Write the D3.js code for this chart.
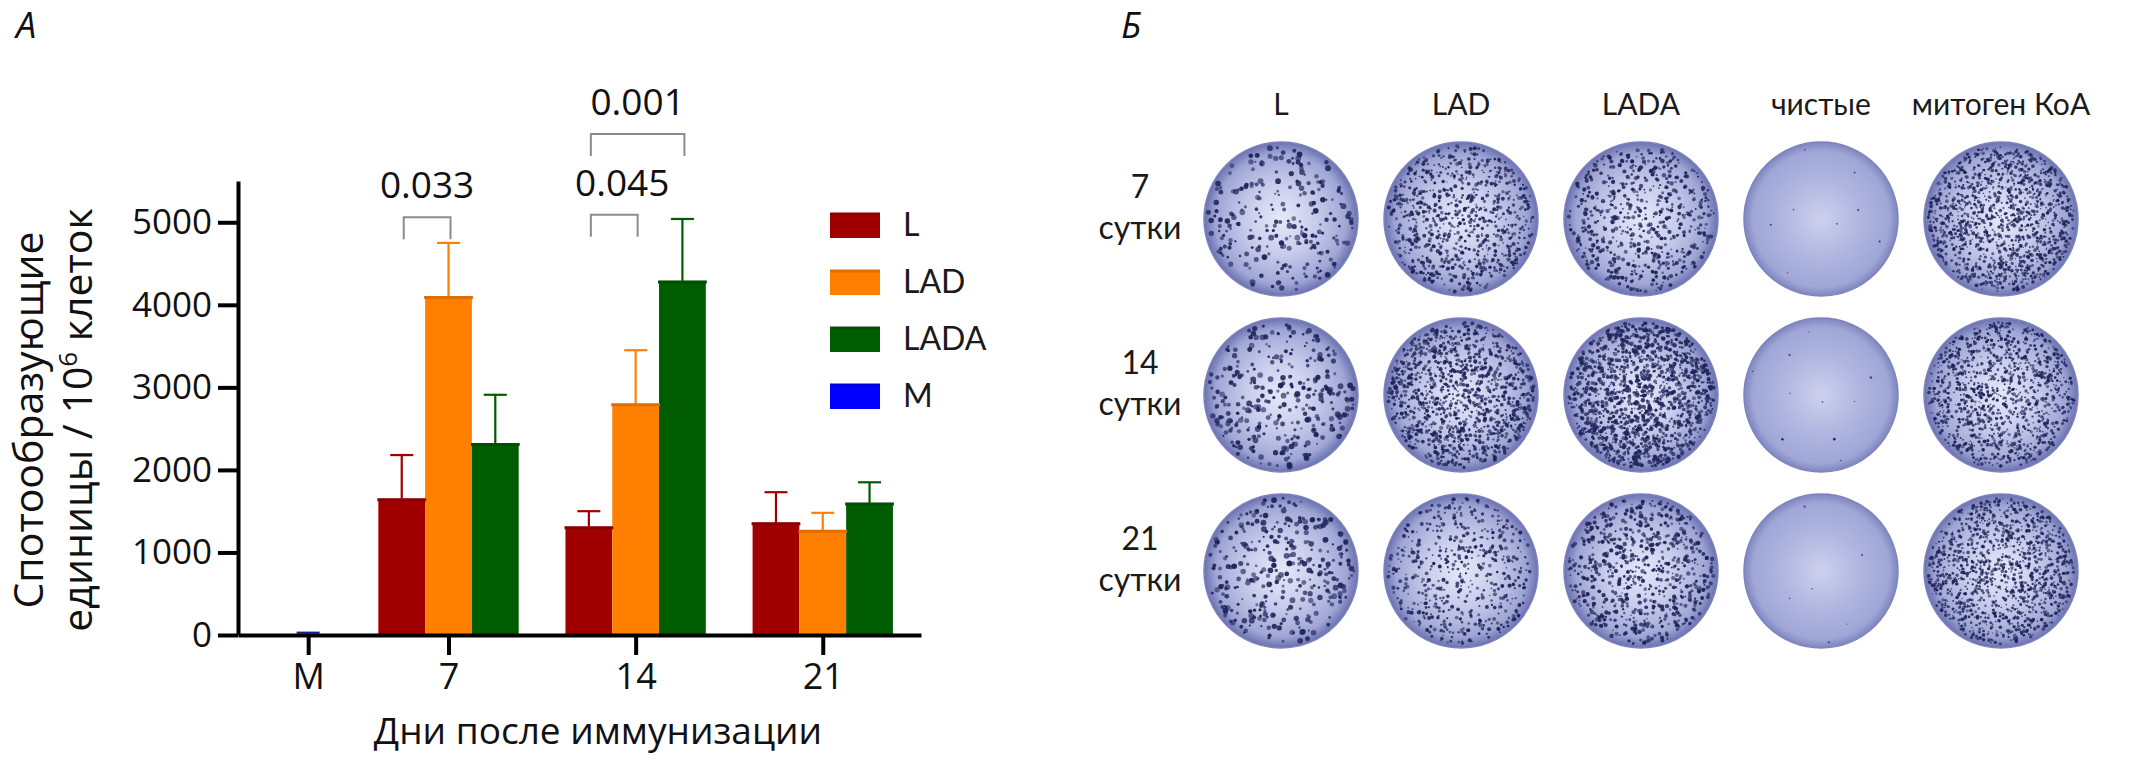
<!DOCTYPE html>
<html>
<head>
<meta charset="utf-8">
<script src="https://cdn.jsdelivr.net/npm/d3@7/dist/d3.min.js"></script>
<style>
body { margin: 0; background: #fff; }
svg { display: block; }
</style>
</head>
<body>
<div id="chart"></div>
<script>
//---------------------------------------Data---------------------------------------
// Panel А: spot forming units per 10^6 cells
var days = ["7", "14", "21"];
var series = ["L", "LAD", "LADA", "M"];
var groupLabels = ["M", "7", "14", "21"];

var meanL = [1650, 1310, 1360];
var errL = [530, 190, 370];
var meanLAD = [4100, 2800, 1270];
var errLAD = [650, 650, 210];
var meanLADA = [2320, 4290, 1600];
var errLADA = [590, 750, 250];
var meanM = [10];
var errM = [18];

var yTicks = [0, 1000, 2000, 3000, 4000, 5000];

// significance brackets: day, from series, to series, p value, bracket level
var pDays = ["7", "14", "14"];
var pFrom = ["L", "L", "L"];
var pTo = ["LAD", "LAD", "LADA"];
var pText = ["0.033", "0.045", "0.001"];
var pLevel = [5060, 5090, 6070];

// Panel Б: ELISpot wells
var wellColumns = ["L", "LAD", "LADA", "чистые", "митоген КоА"];
var wellRows = ["7", "14", "21"];
var spotCounts = [
  [230, 800, 600, 8, 1300],
  [300, 1150, 1400, 10, 1150],
  [320, 520, 700, 6, 1250]
];

//---------------------------------------Layout---------------------------------------
var W = 2133, H = 782;
var color = d3.scaleOrdinal()
    .domain(series)
    .range(["#a00000", "#ff8000", "#005c00", "#0000ff"]);

var svg = d3.select("#chart")
  .append("svg")
    .attr("width", W)
    .attr("height", H);

svg.append("rect").attr("width", W).attr("height", H).attr("fill", "#fff");

// slot scale: every bar occupies one slot, groups separated by one empty slot
var x = d3.scaleLinear()
    .domain([0, 14.6])
    .range([238, 921]);

var y = d3.scaleLinear()
    .domain([0, 5500])
    .range([635, 181]);

function slotOf(s, dayIdx) {
  if (s === "M") return 1;
  return 3 + 4 * dayIdx + series.indexOf(s);
}

// build bar table from the arrays
var bars = [];
var meanBy = {L: meanL, LAD: meanLAD, LADA: meanLADA};
var errBy = {L: errL, LAD: errLAD, LADA: errLADA};
bars.push({s: "M", slot: slotOf("M", 0), v: meanM[0], e: errM[0]});
days.forEach(function(d, i) {
  ["L", "LAD", "LADA"].forEach(function(s) {
    bars.push({s: s, slot: slotOf(s, i), v: meanBy[s][i], e: errBy[s][i]});
  });
});

var bw = x(1) - x(0);
var font = "'Open Sans', 'DejaVu Sans', sans-serif";
var font2 = "Lato, 'Open Sans', sans-serif";

//---------------------------------------Panel А---------------------------------------
var gA = svg.append("g");

// error bars (upper only)
var eb = gA.append("g").selectAll("g")
  .data(bars)
  .enter().append("g")
    .attr("stroke", function(d) { return d.s === "M" ? "#1a1a90" : color(d.s); })
    .attr("stroke-width", 2.2);

eb.append("line")
    .attr("x1", function(d) { return x(d.slot + 0.5); })
    .attr("x2", function(d) { return x(d.slot + 0.5); })
    .attr("y1", function(d) { return y(d.v); })
    .attr("y2", function(d) { return y(d.v + d.e); });

eb.append("line")
    .attr("x1", function(d) { return x(d.slot + 0.5) - 11.5; })
    .attr("x2", function(d) { return x(d.slot + 0.5) + 11.5; })
    .attr("y1", function(d) { return y(d.v + d.e); })
    .attr("y2", function(d) { return y(d.v + d.e); });

// bars
gA.append("g").selectAll("rect")
  .data(bars)
  .enter().append("rect")
    .attr("x", function(d) { return x(d.slot); })
    .attr("y", function(d) { return y(d.v); })
    .attr("width", bw)
    .attr("height", function(d) { return y(0) - y(d.v); })
    .attr("fill", function(d) { return color(d.s); });

// darker top edge of bars
gA.append("g").selectAll("line")
  .data(bars.filter(function(d) { return d.v > 100; }))
  .enter().append("line")
    .attr("x1", function(d) { return x(d.slot) - 1; })
    .attr("x2", function(d) { return x(d.slot + 1) + 1; })
    .attr("y1", function(d) { return y(d.v) + 1; })
    .attr("y2", function(d) { return y(d.v) + 1; })
    .attr("stroke", function(d) { return d3.color(color(d.s)).darker(0.4); })
    .attr("stroke-width", 3);

// y axis
var yAxis = gA.append("g")
    .attr("transform", "translate(" + x(0) + ",0)")
    .call(d3.axisLeft(y).tickValues(yTicks).tickFormat(d3.format("d"))
      .tickSize(20).tickSizeOuter(0).tickPadding(6));

// x axis
var xAxis = gA.append("g")
    .attr("transform", "translate(0," + y(0) + ")")
    .call(d3.axisBottom(x)
      .tickValues([1.5, 4.5, 8.5, 12.5])
      .tickFormat(function(d, i) { return groupLabels[i]; })
      .tickSize(20).tickSizeOuter(0).tickPadding(8));

[yAxis, xAxis].forEach(function(a) {
  a.select(".domain").attr("stroke", "#000").attr("stroke-width", 4);
  a.selectAll(".tick line").attr("stroke", "#000").attr("stroke-width", 4);
  a.selectAll(".tick text")
    .attr("fill", "#111")
    .attr("font-family", font)
    .attr("font-size", 35);
});
xAxis.selectAll(".tick text").attr("font-size", 36);

// significance brackets
pText.forEach(function(t, i) {
  var di = days.indexOf(pDays[i]);
  var x1 = x(slotOf(pFrom[i], di) + 0.5) + 2;
  var x2 = x(slotOf(pTo[i], di) + 0.5) + 2;
  var top = y(pLevel[i]);
  gA.append("path")
      .attr("d", "M" + x1 + "," + (top + 22) + "V" + top + "H" + x2 + "V" + (top + 22))
      .attr("fill", "none")
      .attr("stroke", "#8c8c8c")
      .attr("stroke-width", 2);
  gA.append("text")
      .attr("x", (x1 + x2) / 2 + (i === 1 ? 8 : 0))
      .attr("y", top - 19)
      .attr("text-anchor", "middle")
      .attr("font-family", font)
      .attr("font-size", 37)
      .attr("fill", "#111")
      .text(t);
});

// legend
var legend = gA.append("g")
  .selectAll("g")
  .data(series)
  .enter().append("g")
    .attr("transform", function(d, i) { return "translate(830," + (213 + i * 57) + ")"; });

legend.append("rect")
    .attr("width", 50)
    .attr("height", 25)
    .attr("fill", color);

legend.append("line")
    .attr("x1", 0).attr("x2", 50).attr("y1", 1).attr("y2", 1)
    .attr("stroke", function(d) { return d3.color(color(d)).darker(0.4); })
    .attr("stroke-width", 3);

legend.append("text")
    .attr("x", 73)
    .attr("y", 23)
    .attr("font-family", font2)
    .attr("font-size", 32)
    .attr("fill", "#1a1a1a")
    .text(function(d) { return d; });

// axis titles
var yTitle = gA.append("text")
    .attr("transform", "translate(43,420) rotate(-90)")
    .attr("text-anchor", "middle")
    .attr("font-family", font)
    .attr("font-size", 41)
    .attr("fill", "#111");
yTitle.append("tspan").attr("x", 0).attr("y", 0).text("Спотообразующие");
var t2 = yTitle.append("tspan").attr("x", 0).attr("y", 49);
t2.append("tspan").text("единицы / 10");
t2.append("tspan").attr("dy", -15).attr("font-size", 26).text("6");
t2.append("tspan").attr("dy", 15).text(" клеток");

gA.append("text")
    .attr("x", 598)
    .attr("y", 744)
    .attr("text-anchor", "middle")
    .attr("font-family", font)
    .attr("font-size", 37)
    .attr("fill", "#111")
    .text("Дни после иммунизации");

// panel letters
svg.append("text")
    .attr("x", 16).attr("y", 38)
    .attr("font-family", font)
    .attr("font-style", "italic")
    .attr("font-size", 36)
    .attr("fill", "#111")
    .text("А");

svg.append("text")
    .attr("x", 1121).attr("y", 38)
    .attr("font-family", font)
    .attr("font-style", "italic")
    .attr("font-size", 36)
    .attr("fill", "#111")
    .text("Б");

//---------------------------------------Panel Б---------------------------------------
var cx = d3.scalePoint().domain(wellColumns).range([1281, 2001]);
var cy = d3.scalePoint().domain(wellRows).range([219, 571]);
var R = 77;
var spotSize = [2.1, 1.5, 1.6, 1.0, 1.35];

var defs = svg.append("defs");
function grad(id, stops) {
  var g = defs.append("radialGradient").attr("id", id)
      .attr("cx", "50%").attr("cy", "50%").attr("r", "50%");
  stops.forEach(function(s) {
    g.append("stop").attr("offset", s[0]).attr("stop-color", s[1]);
  });
}
grad("wellGrad", [["0%", "#e6e8f8"], ["45%", "#c9cdec"], ["85%", "#9fa6d5"], ["100%", "#6a71b0"]]);
grad("cleanGrad", [["0%", "#cdd1ee"], ["50%", "#b0b6e0"], ["88%", "#a0a7d7"], ["100%", "#7f86bf"]]);

var gB = svg.append("g");

// column and row captions
gB.selectAll("text.col")
  .data(wellColumns)
  .enter().append("text")
    .attr("class", "col")
    .attr("x", function(d) { return cx(d); })
    .attr("y", 115)
    .attr("text-anchor", "middle")
    .attr("font-family", font2)
    .attr("font-size", 30)
    .attr("fill", "#1a1a1a")
    .text(function(d) { return d; });

var rowLab = gB.selectAll("g.row")
  .data(wellRows)
  .enter().append("g")
    .attr("class", "row")
    .attr("transform", function(d) { return "translate(1140," + cy(d) + ")"; });
rowLab.append("text")
    .attr("y", -21)
    .attr("text-anchor", "middle")
    .attr("font-family", font2)
    .attr("font-size", 32)
    .attr("fill", "#1a1a1a")
    .text(function(d) { return d; });
rowLab.append("text")
    .attr("y", 20)
    .attr("text-anchor", "middle")
    .attr("font-family", font2)
    .attr("font-size", 32)
    .attr("fill", "#1a1a1a")
    .text("сутки");

// deterministic scatter for spot texture
function hash(i, s) {
  var v = Math.sin(i * 127.1 + s * 311.7) * 43758.5453;
  return v - Math.floor(v);
}

var wells = [];
wellRows.forEach(function(r, ri) {
  wellColumns.forEach(function(c, ci) {
    wells.push({row: r, col: c, ri: ri, ci: ci, n: spotCounts[ri][ci]});
  });
});

var well = gB.selectAll("g.well")
  .data(wells)
  .enter().append("g")
    .attr("class", "well")
    .attr("transform", function(d) { return "translate(" + cx(d.col) + "," + cy(d.row) + ")"; });

well.append("circle")
    .attr("r", R)
    .attr("fill", function(d) { return d.col === "чистые" ? "url(#cleanGrad)" : "url(#wellGrad)"; })
    .attr("stroke", "#7d84bd")
    .attr("stroke-width", 1.5);

well.each(function(d) {
  var seed = d.ri * 7 + d.ci * 3 + 1;
  var pts = d3.range(d.n).map(function(i) {
    var a = i * 2.39996 + hash(i, seed) * 2.2;
    var rr = (R - 4) * Math.sqrt((i + hash(i, seed + 0.5)) / d.n);
    return {
      x: rr * Math.cos(a),
      y: rr * Math.sin(a),
      r: spotSize[d.ci] * (0.5 + 0.9 * hash(i, seed + 1.3)),
      o: 0.55 + 0.45 * hash(i, seed + 2.1)
    };
  });
  d3.select(this).selectAll("circle.spot")
    .data(pts)
    .enter().append("circle")
      .attr("class", "spot")
      .attr("cx", function(p) { return p.x; })
      .attr("cy", function(p) { return p.y; })
      .attr("r", function(p) { return p.r; })
      .attr("fill", "#1f2459")
      .attr("fill-opacity", function(p) { return p.o; });
});
</script>
</body>
</html>
